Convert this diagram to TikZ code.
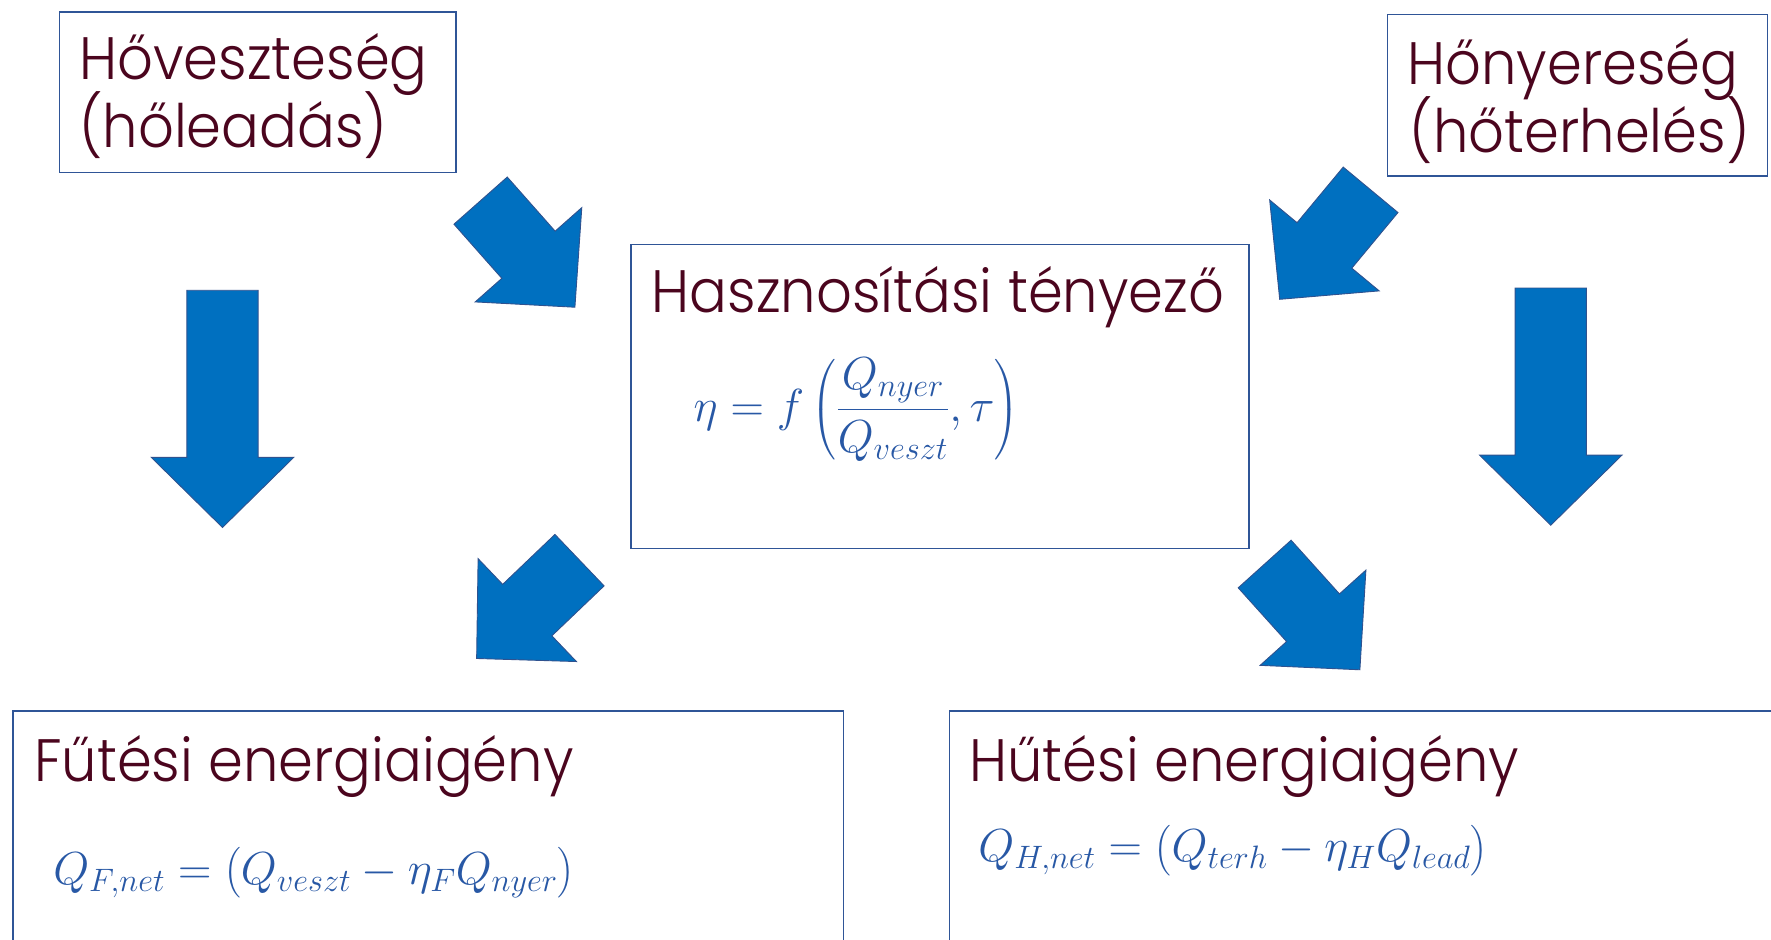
\RequirePackage{fix-cm}
\documentclass[tikz,border=0pt]{standalone}
\usepackage{fontspec}
\usepackage{amsmath}
\IfFontExistsTF{Poppins Light}
  {\newfontfamily\headfont{Poppins Light}}
  {\newfontfamily\headfont{Poppins}}
\definecolor{headred}{RGB}{75,5,30}
\definecolor{mathblue}{RGB}{40,88,165}
\definecolor{boxline}{RGB}{47,85,151}
\definecolor{arrowfill}{RGB}{0,112,192}
\definecolor{arrowline}{RGB}{47,82,143}

\newcommand\headbox[1]{\scalebox{0.935}[1]{#1}}

\tikzset{
  box/.style={draw=boxline, line width=1.3pt, anchor=north west, inner sep=0pt},
  headtext/.style={font=\headfont\fontsize{53}{60}\selectfont, text=headred, anchor=base west, inner sep=0pt},
  formula/.style={font=\fontsize{41}{48}\selectfont, text=mathblue, inner sep=0pt},
  blockfill/.style={fill=arrowfill, draw=arrowline, line width=0.8pt, line join=miter}
}

% block arrow: #1 tip, #2 direction angle, #3 length from tail to tip
\newcommand\blockarr[3]{%
  \begin{scope}[shift={#1}, rotate=#2]
    \filldraw[blockfill] (0,0) -- (-62,63) -- (-62,31.5) -- (-#3,31.5)
      -- (-#3,-31.5) -- (-62,-31.5) -- (-62,-63) -- cycle;
  \end{scope}}

\begin{document}
\begin{tikzpicture}[x=1pt, y=-1pt]
  \useasboundingbox (0,0) rectangle (1568,832);
  \clip (0,0) rectangle (1568,832);

  % frames
  \node[box, minimum width=351pt, minimum height=142pt] (loss) at (52,10) {};
  \node[box, minimum width=336pt, minimum height=143pt] (gain) at (1228,12) {};
  \node[box, minimum width=547pt, minimum height=269pt] (util) at (558,216) {};
  \node[box, minimum width=735pt, minimum height=260pt] (heat) at (11,629) {};
  \node[box, minimum width=800pt, minimum height=260pt] (cool) at (840,629) {};

  % headings
  \node[headtext] (lossA) at (70,70) {\headbox{Hőveszteség}};
  \node[headtext] (lossB) at (70,131) {\headbox{(hőleadás)}};
  \node[headtext] (gainA) at (1246,75) {\headbox{Hőnyereség}};
  \node[headtext] (gainB) at (1248,135) {\headbox{(hőterhelés)}};
  \node[headtext] (utilT) at (577,277) {\headbox{Hasznosítási tényező}};
  \node[headtext] (heatT) at (30,692) {\headbox{Fűtési energiaigény}};
  \node[headtext] (coolT) at (858,692) {\headbox{Hűtési energiaigény}};

  % formulas
  \node[formula, anchor=west] (utilF) at (614,363)
    {$\displaystyle \eta = f\left(\frac{Q_{nyer}}{Q_{veszt}},\tau\right)$};
  \node[formula, anchor=base west] (heatF) at (47,783)
    {$Q_{F,net} = \bigl(Q_{veszt} - \eta_F Q_{nyer}\bigr)$};
  \node[formula, anchor=base west] (coolF) at (866,763)
    {$Q_{H,net} = \bigl(Q_{terh} - \eta_H Q_{lead}\bigr)$};

  % block arrows
  \blockarr{(197,467)}{-90}{210}
  \blockarr{(1373,465)}{-90}{210}
  \blockarr{(509,272)}{-48.5}{126}
  \blockarr{(1133,265)}{-129.7}{126}
  \blockarr{(422,583)}{-136.3}{126}
  \blockarr{(1204,593)}{-48}{126}
\end{tikzpicture}
\end{document}
